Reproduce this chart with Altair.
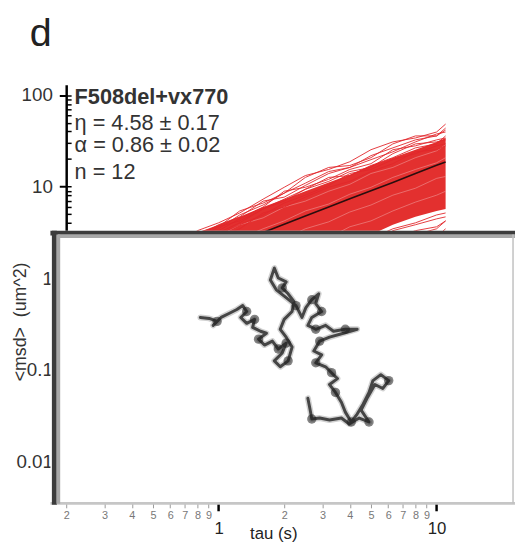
import altair as alt
import pandas as pd

FONT = "Liberation Sans"

# ---------------- data ----------------
TAU = [0.5, 0.8, 1.0, 1.25, 1.6, 2.0, 2.5, 3.2, 4.0, 5.0, 6.3, 8.0, 10.0, 11.0]
MEAN_MSD = [1.08, 1.67, 2.05, 2.52, 3.16, 3.88, 4.77, 5.98, 7.35, 9.03, 11.1, 13.9, 17.1, 18.6]
CORE_HI = [2.00, 3.14, 3.83, 4.67, 5.98, 7.29, 8.90, 11.1, 13.5, 17.0, 20.7, 25.3, 30.8, 34.0]
CORE_LO = [0.352, 0.551, 0.672, 0.820, 1.03, 1.28, 1.56, 1.96, 2.45, 2.98, 3.83, 4.67, 5.42, 5.69]

TRACK_A = [1.49, 3.30, 4.02, 5.15, 7.29, 9.83, 13.2, 15.4, 18.7, 25.3, 30.8, 34.0, 39.5, 48.2]
TRACK_B = [1.42, 3.14, 3.64, 5.42, 6.61, 8.47, 12.6, 16.2, 17.0, 20.7, 29.3, 35.8, 35.8, 41.5]
TRACK_C = [1.35, 2.84, 3.83, 4.67, 6.94, 7.67, 10.3, 13.9, 16.2, 19.7, 24.0, 30.8, 37.6, 39.5]
TRACK_D = [1.35, 2.70, 3.30, 4.44, 5.98, 8.90, 9.83, 12.0, 15.4, 17.8, 25.3, 27.9, 32.4, 34.0]
TRACK_E = [1.28, 2.57, 3.14, 4.02, 5.69, 6.94, 9.35, 12.6, 13.2, 17.0, 20.7, 26.5, 29.3, 35.8]
TRACK_F = [1.28, 2.45, 2.98, 3.83, 4.90, 6.61, 8.06, 10.3, 13.9, 15.4, 19.7, 22.9, 27.9, 29.3]
TRACK_G = [1.22, 2.33, 2.84, 3.46, 5.15, 5.98, 7.67, 9.83, 11.4, 14.6, 17.8, 24.0, 25.3, 27.9]
TRACK_M = [1.35, 2.98, 3.46, 4.90, 6.29, 8.47, 10.9, 14.6, 16.2, 21.8, 26.5, 32.4, 35.8, 43.6]
TRACK_N = [1.28, 2.70, 3.64, 4.22, 5.69, 7.29, 9.35, 11.4, 14.6, 16.2, 22.9, 29.3, 30.8, 32.4]
TRACK_H = [0.275, 0.452, 0.551, 0.672, 0.86, 1.05, 1.35, 1.73, 2.11, 2.70, 3.46, 4.02, 4.90, 5.15]
TRACK_I = [0.249, 0.409, 0.499, 0.609, 0.74, 0.95, 1.22, 1.49, 1.91, 2.33, 3.30, 3.83, 4.44, 4.67]
TRACK_J = [0.225, 0.370, 0.452, 0.551, 0.672, 0.820, 1.05, 1.35, 1.73, 2.11, 2.70, 3.30, 3.64, 4.22]
TRACK_K = [0.204, 0.335, 0.409, 0.499, 0.609, 0.74, 0.905, 1.16, 1.49, 1.91, 2.33, 2.98, 3.46, 4.22]
TRACK_L = [0.185, 0.303, 0.370, 0.452, 0.551, 0.672, 0.820, 1.00, 1.28, 1.64, 2.11, 2.70, 2.84, 3.46]
TRACKS = [TRACK_A, TRACK_B, TRACK_C, TRACK_D, TRACK_E, TRACK_F, TRACK_G, TRACK_M, TRACK_N,
          TRACK_H, TRACK_I, TRACK_J, TRACK_K, TRACK_L]

TEX_1 = [1.60, 2.51, 2.91, 3.83, 4.55, 5.98, 6.94, 8.90, 10.6, 13.9, 16.2, 20.7, 24.6, 28.6]
TEX_2 = [1.19, 1.82, 2.33, 2.70, 3.46, 4.22, 5.42, 6.45, 8.26, 9.83, 12.6, 15.4, 18.2, 20.7]
TEX_3 = [0.76, 1.16, 1.49, 1.73, 2.27, 2.70, 3.46, 4.12, 5.28, 6.29, 8.06, 9.60, 12.3, 12.9]
TEX_4 = [0.51, 0.780, 1.00, 1.16, 1.52, 1.82, 2.33, 2.77, 3.64, 4.22, 5.42, 6.77, 8.06, 8.90]
TEXTURE = [TEX_1, TEX_2, TEX_3, TEX_4]

# inset image: particle trajectory (um)
TRAJ_X = [2.72, 2.90, 3.06, 2.98, 3.14, 3.30, 3.46, 3.58, 3.66, 3.54, 3.66, 3.82, 3.78, 3.94, 4.06,
          3.90, 4.02, 4.18, 4.30, 4.46, 4.38, 4.22, 4.34, 4.50, 4.58, 4.46, 4.34, 4.42, 4.58, 4.62,
          4.50, 4.38, 4.46, 4.30, 4.22, 4.14, 4.26, 4.46, 4.66, 4.78, 4.86, 4.98, 5.12, 5.06, 5.18,
          4.98, 4.90, 5.06, 5.26, 5.42, 5.66, 5.90, 5.62, 5.34, 5.14, 5.02, 5.18, 5.06, 5.26, 5.38,
          5.50, 5.34, 5.46, 5.58, 5.66, 5.78, 5.90, 6.02, 6.14, 6.22, 6.38, 6.54, 6.42, 6.26, 6.10,
          5.98, 6.14, 5.94, 5.74, 5.58, 5.34, 5.14, 4.98, 4.94, 4.90]
TRAJ_Y = [3.76, 3.74, 3.68, 3.60, 3.76, 3.84, 3.92, 4.00, 3.88, 3.76, 3.64, 3.72, 3.56, 3.48, 3.44,
          3.32, 3.20, 3.28, 3.12, 3.24, 3.04, 2.88, 2.76, 2.88, 3.16, 3.36, 3.52, 3.72, 3.88, 4.08,
          4.24, 4.36, 4.48, 4.56, 4.76, 4.52, 4.32, 4.16, 4.00, 3.76, 3.96, 4.12, 4.24, 4.04, 3.88,
          3.76, 3.60, 3.52, 3.60, 3.48, 3.52, 3.52, 3.44, 3.36, 3.28, 3.08, 3.00, 2.84, 2.76, 2.64,
          2.52, 2.40, 2.24, 2.04, 1.84, 1.64, 1.80, 2.00, 2.24, 2.48, 2.60, 2.48, 2.32, 2.40, 2.12,
          1.88, 1.64, 1.72, 1.60, 1.72, 1.68, 1.72, 1.70, 1.92, 2.12]
BLOB_IDX = [2, 8, 11, 15, 18, 19, 23, 31, 38, 41, 44, 47, 50, 54, 57, 59, 62, 65, 71, 76, 82]

X_MAJOR = [1, 10]
X_MINOR = [0.2, 0.3, 0.4, 0.5, 0.6, 0.7, 0.8, 0.9, 2, 3, 4, 5, 6, 7, 8, 9]
Y_MAJOR = [0.01, 0.1, 1, 10, 100]
Y_MINOR = [0.004, 0.005, 0.006, 0.007, 0.008, 0.009,
           0.02, 0.03, 0.04, 0.05, 0.06, 0.07, 0.08, 0.09,
           0.2, 0.3, 0.4, 0.5, 0.6, 0.7, 0.8, 0.9,
           2, 3, 4, 5, 6, 7, 8, 9,
           20, 30, 40, 50, 60, 70, 80, 90]

PANEL = "d"
ANNOT = ["F508del+vx770", "η = 4.58 ± 0.17", "α = 0.86 ± 0.02", "n = 12"]
ANNOT_Y = [8.086, 7.566, 7.106, 6.574]
ANNOT_X = 0.17

# ---------------- tables ----------------
core_df = pd.DataFrame({"tau": TAU, "hi": CORE_HI, "lo": CORE_LO})
mean_df = pd.DataFrame({"tau": TAU, "msd": MEAN_MSD})
tracks_df = pd.DataFrame(
    [{"track": i, "tau": t, "msd": m} for i, tr in enumerate(TRACKS) for t, m in zip(TAU, tr)]
)
tex_df = pd.DataFrame(
    [{"track": i, "tau": t, "msd": m} for i, tr in enumerate(TEXTURE) for t, m in zip(TAU, tr)]
)
assert len(TRAJ_X) == len(TRAJ_Y)
traj_df = pd.DataFrame({"i": list(range(len(TRAJ_X))), "x": TRAJ_X, "y": TRAJ_Y})
blob_df = traj_df.iloc[BLOB_IDX]
annot_df = pd.DataFrame({"x": [ANNOT_X] * 4, "y": ANNOT_Y, "text": ANNOT})

inset_df = pd.DataFrame({"x0": [-0.32], "x1": [9.2], "y0": [-0.02], "y1": [5.52]})
border_h = pd.DataFrame({"x0": [-0.32, -0.17, -0.32], "x1": [9.2, 9.2, 9.2],
                         "y": [5.47, 5.41, -0.01], "c": ["a", "b", "c"]})
border_v = pd.DataFrame({"x": [-0.24, -0.16, 9.06], "y0": [-0.04, -0.02, -0.02],
                         "y1": [5.52, 5.44, 5.44], "c": ["a", "b", "d"]})

# ---------------- scales / axes ----------------
X_LOG = alt.Scale(type="log", domain=[0.2, 12], nice=False)
Y_LOG = alt.Scale(type="log", domain=[0.0035, 130], nice=False)
X_LIN = alt.Scale(domain=[0, 7.86], nice=False, zero=False)
Y_LIN = alt.Scale(domain=[0, 8.48], nice=False, zero=False)

major_x = alt.Axis(orient="bottom", values=X_MAJOR, labelExpr="format(datum.value, 'd')",
                   tickSize=8, tickWidth=2.5, tickColor="black", labelFontSize=17,
                   labelColor="#222", labelFont=FONT, labelPadding=10, domain=False, grid=False,
                   labelFlush=False, labelOverlap=False,
                   title="tau (s)", titleFont=FONT, titleFontSize=17, titleFontWeight="normal",
                   titleColor="#222", titleX=210, titleY=36, titleAlign="center",
                   titleBaseline="alphabetic")
minor_x = alt.Axis(orient="bottom", values=X_MINOR,
                   labelExpr="datum.value < 1 ? format(round(datum.value*10), 'd') : format(datum.value, 'd')",
                   tickSize=5, tickWidth=1, tickColor="#999", labelFontSize=11, labelColor="#777",
                   labelFont=FONT, labelPadding=2, domain=False, grid=False, labelFlush=False,
                   labelOverlap=False, title=None)
major_y = alt.Axis(orient="left", values=Y_MAJOR, labelExpr="format(datum.value, '~g')",
                   tickSize=7, tickWidth=2, tickColor="black", domainColor="black", domainWidth=2.5,
                   labelFontSize=19, labelColor="#333", labelFont=FONT, labelPadding=7, grid=False,
                   labelFlush=False, labelOverlap=False,
                   title="<msd>\u00a0\u00a0(um^2)", titleFont=FONT, titleFontSize=18,
                   titleFontWeight="normal", titleColor="#333", titleX=-46, titleY=240,
                   titleAlign="center", titleBaseline="middle")
minor_y = alt.Axis(orient="left", values=Y_MINOR + Y_MAJOR, labels=False, domain=False, grid=False,
                   tickSize=5, tickWidth=1.5, tickColor="black", offset=-5, title=None)

# ---------------- layers ----------------
core = alt.Chart(core_df).mark_area(color="#e3302f").encode(
    x=alt.X("tau:Q", scale=X_LOG, axis=major_x),
    y=alt.Y("hi:Q", scale=Y_LOG, axis=major_y),
    y2="lo:Q",
)
tex = alt.Chart(tex_df).mark_line(color="#f2b0b0", strokeWidth=0.8, opacity=0.6).encode(
    x=alt.X("tau:Q", scale=X_LOG, axis=None),
    y=alt.Y("msd:Q", scale=Y_LOG, axis=None),
    detail="track:N",
)
lines = alt.Chart(tracks_df).mark_line(color="#e2262b", strokeWidth=1, opacity=0.9).encode(
    x=alt.X("tau:Q", scale=X_LOG, axis=minor_x),
    y=alt.Y("msd:Q", scale=Y_LOG, axis=minor_y),
    detail="track:N",
)
mean = alt.Chart(mean_df).mark_line(color="#2a0e0e", strokeWidth=1.6).encode(
    x=alt.X("tau:Q", scale=X_LOG, axis=None),
    y=alt.Y("msd:Q", scale=Y_LOG, axis=None),
)

inset = alt.Chart(inset_df).mark_rect(fill="white").encode(
    x=alt.X("x0:Q", scale=X_LIN, axis=None), x2="x1:Q",
    y=alt.Y("y0:Q", scale=Y_LIN, axis=None), y2="y1:Q",
)
bcol = alt.Scale(domain=["a", "b", "c", "d"], range=["#3c3c3c", "#a8a8a8", "#c6c6c6", "#c0c0c0"])
bwid = alt.Scale(domain=["a", "b", "c", "d"], range=[5, 1.5, 3, 3])
bh = alt.Chart(border_h).mark_rule().encode(
    x=alt.X("x0:Q", scale=X_LIN, axis=None), x2="x1:Q",
    y=alt.Y("y:Q", scale=Y_LIN, axis=None),
    color=alt.Color("c:N", scale=bcol, legend=None),
    strokeWidth=alt.StrokeWidth("c:N", scale=bwid, legend=None),
)
bv = alt.Chart(border_v).mark_rule().encode(
    x=alt.X("x:Q", scale=X_LIN, axis=None),
    y=alt.Y("y0:Q", scale=Y_LIN, axis=None), y2="y1:Q",
    color=alt.Color("c:N", scale=bcol, legend=None),
    strokeWidth=alt.StrokeWidth("c:N", scale=bwid, legend=None),
)
halo = alt.Chart(traj_df).mark_line(color="#5a5a5a", strokeWidth=6, opacity=0.28,
                                    strokeJoin="round", strokeCap="round").encode(
    x=alt.X("x:Q", scale=X_LIN, axis=None),
    y=alt.Y("y:Q", scale=Y_LIN, axis=None),
    order="i:Q",
)
path = alt.Chart(traj_df).mark_line(color="#222222", strokeWidth=3, opacity=0.8,
                                    strokeJoin="round", strokeCap="round").encode(
    x=alt.X("x:Q", scale=X_LIN, axis=None),
    y=alt.Y("y:Q", scale=Y_LIN, axis=None),
    order="i:Q",
)
blobs = alt.Chart(blob_df).mark_circle(color="#1e1e1e", size=90, opacity=0.55).encode(
    x=alt.X("x:Q", scale=X_LIN, axis=None),
    y=alt.Y("y:Q", scale=Y_LIN, axis=None),
)
head = alt.Chart(annot_df.iloc[[0]]).mark_text(font=FONT, fontSize=22, fontWeight="bold",
                                                color="#333", align="left", baseline="alphabetic").encode(
    x=alt.X("x:Q", scale=X_LIN, axis=None),
    y=alt.Y("y:Q", scale=Y_LIN, axis=None),
    text="text:N",
)
stats = alt.Chart(annot_df.iloc[1:]).mark_text(font=FONT, fontSize=22, color="#333",
                                               align="left", baseline="alphabetic").encode(
    x=alt.X("x:Q", scale=X_LIN, axis=None),
    y=alt.Y("y:Q", scale=Y_LIN, axis=None),
    text="text:N",
)
panel = alt.Chart(pd.DataFrame({"x": [-0.74], "y": [9.26], "t": [PANEL]})).mark_text(
    font=FONT, fontSize=40, color="#222", align="left", baseline="alphabetic").encode(
    x=alt.X("x:Q", scale=X_LIN, axis=None),
    y=alt.Y("y:Q", scale=Y_LIN, axis=None),
    text="t:N",
)

chart = alt.layer(
    core, tex, lines, mean, inset, bh, bv, halo, path, blobs, head, stats, panel
).resolve_scale(x="independent", y="independent").properties(
    width=393, height=424,
    padding={"left": 59, "top": 74, "right": 62, "bottom": 40},
    autosize=alt.AutoSizeParams(type="none"),
    background="white",
).configure_view(stroke=None)

chart.save("out.html", embed_options={"renderer": "svg", "actions": False})
